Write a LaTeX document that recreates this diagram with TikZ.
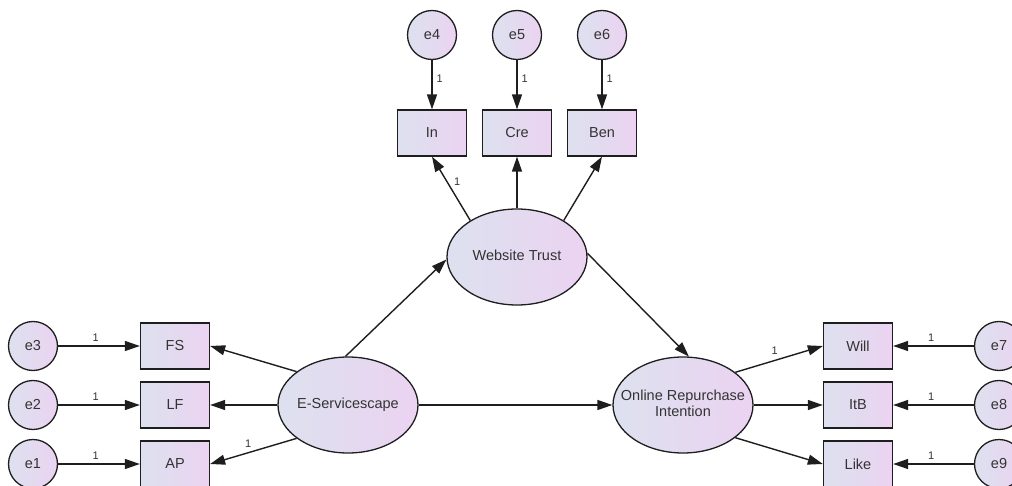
\documentclass[tikz,border=0pt]{standalone}
\usepackage{fontspec}
\setmainfont{Liberation Sans}
\usetikzlibrary{shapes.geometric,arrows.meta}
\definecolor{fillL}{HTML}{DDE1EF}
\definecolor{fillR}{HTML}{EBD3F1}
\definecolor{txt}{HTML}{333333}
\definecolor{ln}{HTML}{1E1E1E}
\newcommand{\fixw}[1]{\makebox[70pt][c]{\begin{tabular}{@{}c@{}}#1\end{tabular}}}
\begin{document}
\begin{tikzpicture}[x=1pt,y=-1pt,
  every node/.style={text=txt},
  base/.style={draw=ln,line width=1.3pt,left color=fillL,right color=fillR,
    font=\fontsize{14.5}{16.5}\selectfont,inner sep=0pt},
  obs/.style={base,rectangle,minimum width=69pt,minimum height=46pt},
  err/.style={base,circle,minimum size=49pt},
  lat/.style={base,ellipse,minimum width=140pt,minimum height=96pt},
  path/.style={draw=ln,line width=1.4pt,-{Triangle[length=15pt,width=10pt]}},
  lbl/.style={font=\fontsize{11}{12}\selectfont,inner sep=1pt,text=txt}]
\useasboundingbox (0,0) rectangle (1012,486);
% latent variables
\node[lat] (wt) at (517,257) {\fixw{Website Trust}};
\node[lat] (es) at (348,405) {\fixw{E-Servicescape}};
\node[lat] (ori) at (683,405) {\fixw{Online Repurchase\\[-1pt]Intention}};
% observed
\node[obs] (in) at (432,133) {In};
\node[obs] (cre) at (517,133) {Cre};
\node[obs] (ben) at (602,133) {Ben};
\node[obs] (fs) at (175,346) {FS};
\node[obs] (lf) at (175,405) {LF};
\node[obs] (ap) at (175,464) {AP};
\node[obs] (will) at (858,346) {Will};
\node[obs] (itb) at (858,405) {ItB};
\node[obs] (like) at (858,464) {Like};
% errors
\node[err] (e4) at (432,35) {e4};
\node[err] (e5) at (517,35) {e5};
\node[err] (e6) at (602,35) {e6};
\node[err] (e3) at (33,346) {e3};
\node[err] (e2) at (33,405) {e2};
\node[err] (e1) at (33,464) {e1};
\node[err] (e7) at (999,346) {e7};
\node[err] (e8) at (999,405) {e8};
\node[err] (e9) at (999,464) {e9};
% error arrows
\draw[path] (e4) -- node[lbl,pos=0.38,right=3pt]{1} (in);
\draw[path] (e5) -- node[lbl,pos=0.38,right=3pt]{1} (cre);
\draw[path] (e6) -- node[lbl,pos=0.38,right=3pt]{1} (ben);
\draw[path] (e3) -- node[lbl,pos=0.46,above=3pt]{1} (fs);
\draw[path] (e2) -- node[lbl,pos=0.46,above=3pt]{1} (lf);
\draw[path] (e1) -- node[lbl,pos=0.46,above=3pt]{1} (ap);
\draw[path] (e7) -- node[lbl,pos=0.53,above=3pt]{1} (will);
\draw[path] (e8) -- node[lbl,pos=0.53,above=3pt]{1} (itb);
\draw[path] (e9) -- node[lbl,pos=0.53,above=3pt]{1} (like);
% loadings
\draw[path] (wt.142) -- node[lbl,pos=0.6,right=5pt]{1} (in.south);
\draw[path] (wt) -- (cre);
\draw[path] (wt.38) -- (ben.south);
\draw[path] (es.147) -- (fs.east);
\draw[path] (es) -- (lf);
\draw[path] (es.213) -- node[lbl,pos=0.56,above=4pt]{1} (ap.east);
\draw[path] (ori.32) -- node[lbl,pos=0.45,above=4pt]{1} (will.west);
\draw[path] (ori) -- (itb);
\draw[path] (ori.-32) -- (like.west);
% structural paths
\draw[path] (es.93) -- (wt.182);
\draw[path] (wt.3) -- (ori.83);
\draw[path] (es) -- (ori);
\end{tikzpicture}
\end{document}
